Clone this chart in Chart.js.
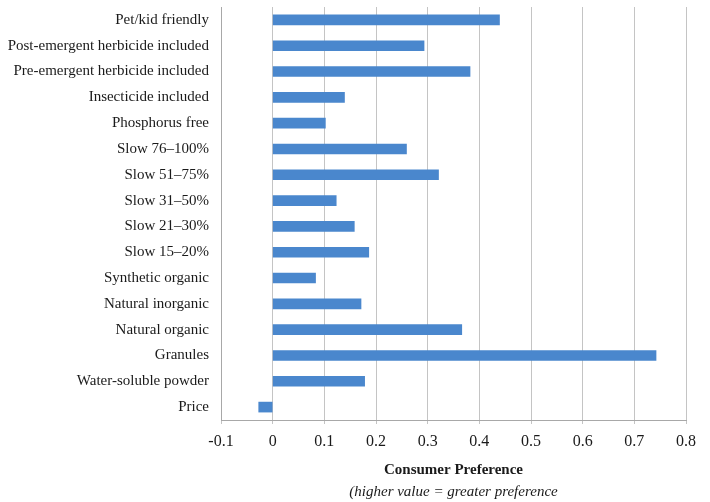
<!DOCTYPE html>
<html>
<head>
<meta charset="utf-8">
<script src="https://cdn.jsdelivr.net/npm/chart.js@4/dist/chart.umd.min.js"></script>
<style>
  html, body { margin: 0; padding: 0; background: #ffffff; }
  #wrap { width: 710px; height: 502px; }
</style>
</head>
<body>
<div id="wrap"><canvas id="chart" width="710" height="502"></canvas></div>
<script>
// Fertilizer attributes and their estimated consumer preference weights
const attributes = [
  "Pet/kid friendly",
  "Post-emergent herbicide included",
  "Pre-emergent herbicide included",
  "Insecticide included",
  "Phosphorus free",
  "Slow 76\u2013100%",
  "Slow 51\u201375%",
  "Slow 31\u201350%",
  "Slow 21\u201330%",
  "Slow 15\u201320%",
  "Synthetic organic",
  "Natural inorganic",
  "Natural organic",
  "Granules",
  "Water-soluble powder",
  "Price"
];
const preference = [
  0.439, 0.293, 0.382, 0.139, 0.102, 0.259, 0.321, 0.123,
  0.158, 0.186, 0.083, 0.171, 0.366, 0.742, 0.178, -0.027
];
const axisTicks = [-0.1, 0, 0.1, 0.2, 0.3, 0.4, 0.5, 0.6, 0.7, 0.8];
const axisTitle = "Consumer Preference";
const axisNote = "(higher value = greater preference";

const serif = "'Liberation Serif', 'Times New Roman', serif";

new Chart(document.getElementById("chart"), {
  type: "bar",
  data: {
    labels: attributes,
    datasets: [{
      data: preference,
      backgroundColor: "#4a87cd",
      borderWidth: 0,
      barThickness: 10
    }]
  },
  options: {
    indexAxis: "y",
    responsive: false,
    animation: false,
    layout: { padding: { top: 7, right: 24, left: 0, bottom: 0 } },
    plugins: {
      legend: { display: false },
      tooltip: { enabled: false },
      title: {
        display: true,
        position: "bottom",
        fullSize: false,
        text: axisNote,
        color: "#1a1a1a",
        font: { family: serif, size: 15, style: "italic", weight: "normal", lineHeight: 1.2 },
        padding: { top: 0, bottom: 1 }
      }
    },
    scales: {
      x: {
        type: "linear",
        min: -0.1,
        max: 0.8,
        afterBuildTicks: (scale) => { scale.ticks = axisTicks.map(v => ({ value: v })); },
        afterFit: (scale) => { scale.height = 63; },
        grid: { color: "#c4c4c4", lineWidth: 1, drawTicks: true, tickLength: 4 },
        border: { display: true, color: "#a8a8a8" },
        ticks: {
          color: "#1a1a1a",
          padding: 8,
          font: { family: serif, size: 16 },
          callback: (v) => String(Math.round(v * 10) / 10)
        },
        title: {
          display: true,
          text: axisTitle,
          color: "#1a1a1a",
          font: { family: serif, size: 15, weight: "bold", lineHeight: 1.2 },
          padding: { top: 4, bottom: 4 }
        }
      },
      y: {
        // the category bands should run right up to the plot edges
        afterFit: (scale) => {
          scale.width = 221;
          scale.paddingTop = 0;
          scale.paddingBottom = 0;
        },
        grid: { display: false, drawTicks: false },
        border: { display: true, color: "#a8a8a8" },
        ticks: { color: "#1a1a1a", padding: 12, font: { family: serif, size: 15 } }
      }
    }
  }
});
</script>
</body>
</html>
